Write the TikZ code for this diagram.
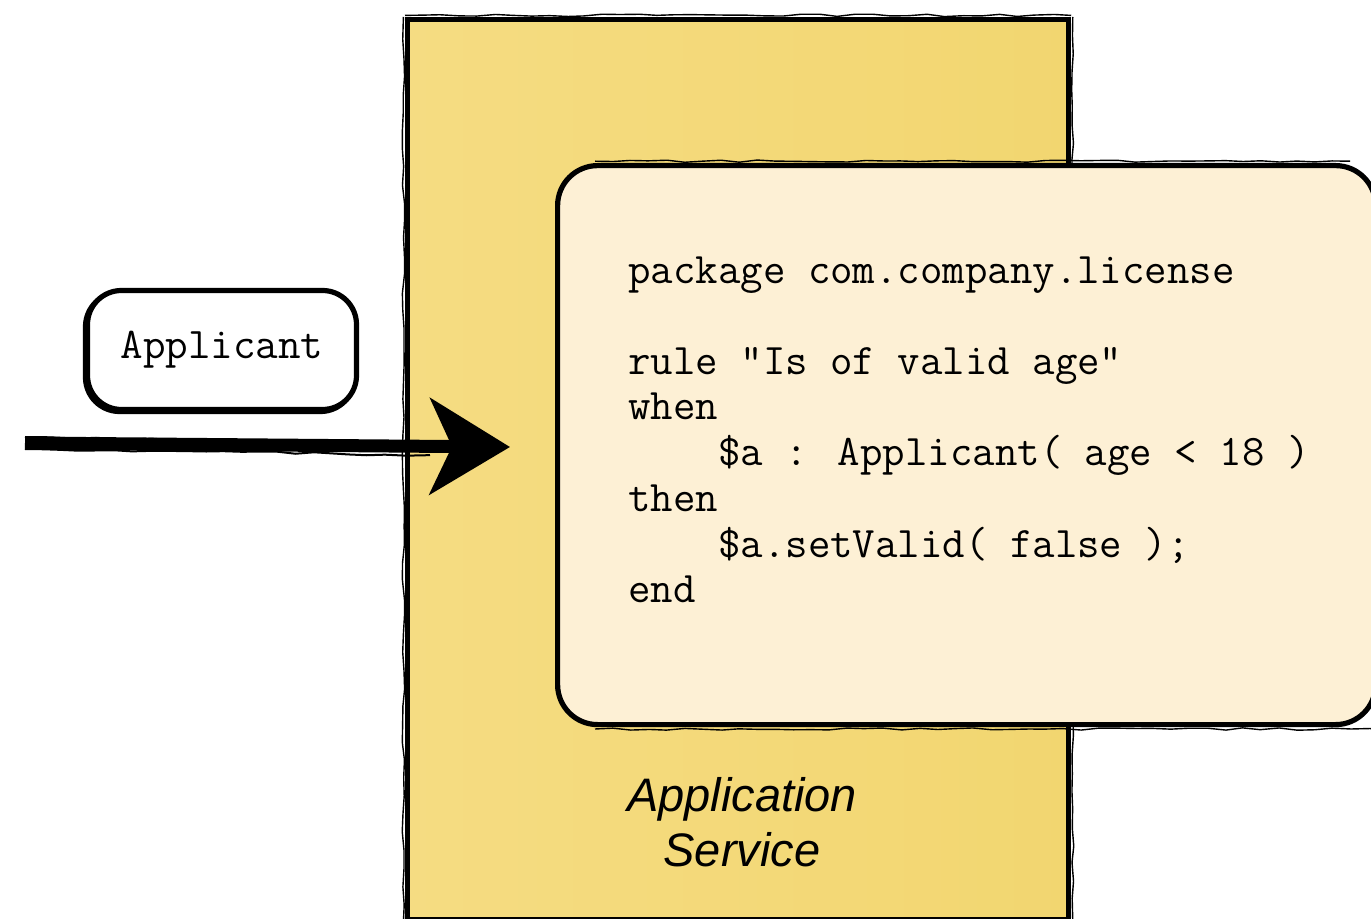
\documentclass[tikz,border=0pt]{standalone}
\usepackage{fontspec}
\setmainfont{Liberation Sans}
\usetikzlibrary{arrows.meta,decorations.pathmorphing}
\definecolor{svcyellow}{HTML}{F2D670}
\definecolor{svcyellowlight}{HTML}{F5DC82}
\definecolor{cream}{HTML}{FDF0D5}
\tikzset{
  rough/.style={decorate,decoration={random steps,segment length=9pt,amplitude=0.6pt}},
  svcbox/.style={draw=black,line width=2.6pt,left color=svcyellowlight,right color=svcyellow,
    inner sep=0pt,anchor=north west},
  codebox/.style={draw=black,line width=2.6pt,fill=cream,rounded corners=20pt,
    inner sep=0pt,anchor=north west},
  entitybox/.style={draw=black,line width=2.6pt,fill=white,rounded corners=17pt,
    minimum width=134.5pt,minimum height=59.5pt,inner sep=0pt,
    font=\ttfamily\fontsize{21.9}{24}\selectfont},
  codeline/.style={anchor=base west,inner sep=0pt,font=\ttfamily\fontsize{21.8}{24}\selectfont},
  caption/.style={align=center,inner sep=0pt,font=\itshape\fontsize{23.5}{27.5}\selectfont},
  flow/.style={line width=6.5pt,-{Stealth[length=40pt,width=48pt,inset=11pt]}},
}
\begin{document}
\begin{tikzpicture}[x=0.5pt,y=-0.5pt]
  \path[use as bounding box,clip] (0,0) rectangle (1371,919);

  % service container
  \node[svcbox,minimum width=330.5pt,minimum height=450pt] (svc) at (405,17) {};
  \draw[rough,line width=0.7pt] ([yshift=0.8pt]svc.north west) -- ([yshift=0.8pt]svc.north east);
  \draw[rough,line width=0.7pt] ([xshift=0.8pt]svc.north east) -- ([xshift=0.8pt]svc.south east);
  \draw[rough,line width=0.7pt] ([xshift=-0.8pt]svc.south west) -- ([xshift=-0.8pt]svc.north west);

  % rule definition card
  \node[codebox,minimum width=409pt,minimum height=279.5pt] (card) at (555,163) {};
  \draw[rough,line width=0.7pt] ([xshift=20pt,yshift=0.9pt]card.north west) -- ([xshift=-14pt,yshift=0.9pt]card.north east);
  \draw[rough,line width=0.7pt] ([xshift=20pt,yshift=-0.9pt]card.south west) -- ([yshift=-0.9pt]card.south east);

  % rule source text
  \node[codeline] (l1) at (628,284) {package com.company.license};
  \node[codeline] (l2) at (628,375) {rule "Is of valid age"};
  \node[codeline] (l3) at (628,420) {when};
  \node[codeline] (l4) at (628,466) {\ \ \ \ \$a : Applicant( age < 18 )};
  \node[codeline] (l5) at (628,511) {then};
  \node[codeline] (l6) at (628,557) {\ \ \ \ \$a.setValid( false );};
  \node[codeline] (l7) at (628,602) {end};

  % caption of the container
  \node[caption] (svclabel) at (742,822) {Application\\Service};

  % incoming fact, with a heavier stroke on its lower left
  \node[draw=black,line width=2.6pt,rounded corners=17pt,minimum width=134.5pt,minimum height=59.5pt]
    (factshadow) at (220,352) {};
  \node[entitybox] (fact) at (222,350) {\raisebox{-1.5pt}{Applicant}};

  \coordinate (src) at (25,443);
  \coordinate (tip) at (510,447);
  \draw[flow] (src) -- (tip);
  \draw[rough,line width=1pt] ([yshift=3pt]src) -- ([xshift=-40pt,yshift=1pt]tip);
  \draw[rough,line width=1pt] ([yshift=-3pt]src) -- ([xshift=-40pt,yshift=-4pt]tip);
\end{tikzpicture}
\end{document}
